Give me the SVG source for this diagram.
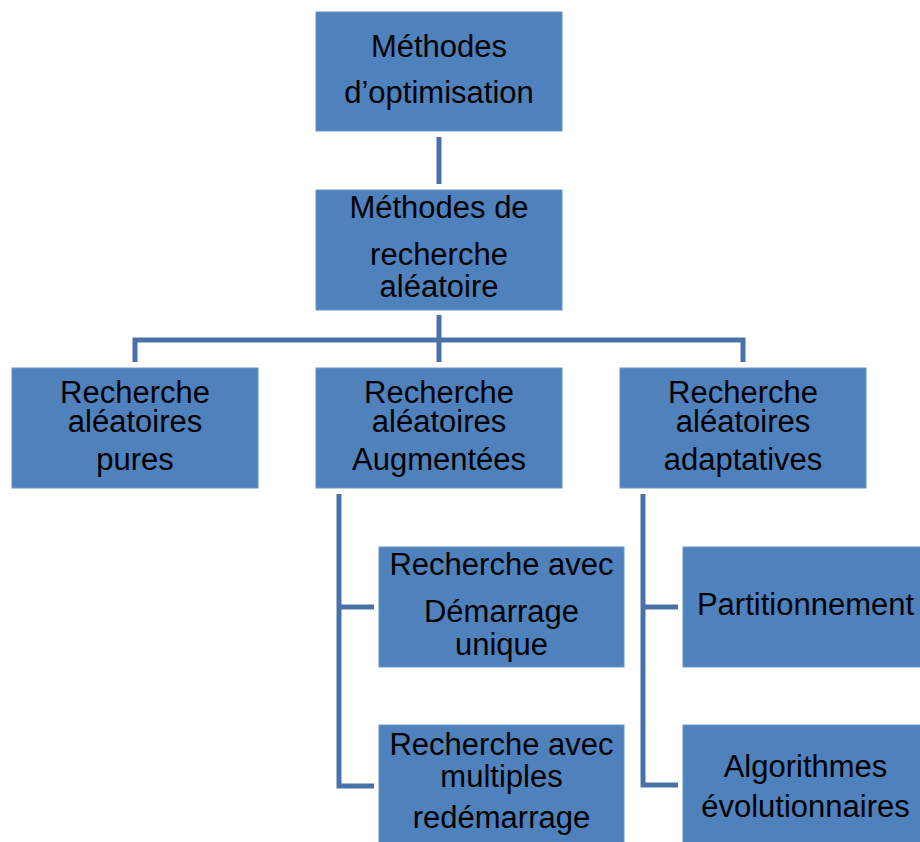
<svg xmlns="http://www.w3.org/2000/svg" width="920" height="842" viewBox="0 0 920 842">
<style>
.box{fill:#4F81BD;stroke:#6B93C6;stroke-width:1}
.t{font-family:"Liberation Sans",Arial,sans-serif;font-size:31px;fill:#000;text-anchor:middle}
.c{fill:none;stroke:#4A72AA;stroke-width:5;stroke-linejoin:miter;stroke-linecap:butt}
</style>
<rect width="920" height="842" fill="#fff"/>
<g id="connectors">
<path class="c" d="M439,137 V184"/>
<path class="c" d="M439,315 V362"/>
<path class="c" d="M135,362 V340 H743 V362"/>
<path class="c" d="M339,494 V786 H374"/>
<path class="c" d="M339,607 H374"/>
<path class="c" d="M643,494 V785 H678"/>
<path class="c" d="M643,607 H678"/>
</g>
<g id="n_methodes_optimisation">
<rect class="box" x="316" y="12" width="246" height="119"/>
<text class="t" x="439" y="57">Méthodes</text>
<text class="t" x="439" y="103">d’optimisation</text>
</g>
<g id="n_recherche_aleatoire">
<rect class="box" x="316" y="190" width="246" height="120"/>
<text class="t" x="439" y="218">Méthodes de</text>
<text class="t" x="439" y="265">recherche</text>
<text class="t" x="439" y="297">aléatoire</text>
</g>
<g id="n_pures">
<rect class="box" x="12" y="368" width="246" height="120"/>
<text class="t" x="135" y="403">Recherche</text>
<text class="t" x="135" y="432">aléatoires</text>
<text class="t" x="135" y="470">pures</text>
</g>
<g id="n_augmentees">
<rect class="box" x="316" y="368" width="246" height="120"/>
<text class="t" x="439" y="403">Recherche</text>
<text class="t" x="439" y="432">aléatoires</text>
<text class="t" x="439" y="470">Augmentées</text>
</g>
<g id="n_adaptatives">
<rect class="box" x="620" y="368" width="246" height="120"/>
<text class="t" x="743" y="403">Recherche</text>
<text class="t" x="743" y="432">aléatoires</text>
<text class="t" x="743" y="470">adaptatives</text>
</g>
<g id="n_demarrage_unique">
<rect class="box" x="379" y="547" width="245" height="120"/>
<text class="t" x="501.5" y="575">Recherche avec</text>
<text class="t" x="501.5" y="622">Démarrage</text>
<text class="t" x="501.5" y="655">unique</text>
</g>
<g id="n_multiples_redemarrage">
<rect class="box" x="379" y="725" width="245" height="125"/>
<text class="t" x="501.5" y="755">Recherche avec</text>
<text class="t" x="501.5" y="787">multiples</text>
<text class="t" x="501.5" y="828">redémarrage</text>
</g>
<g id="n_partitionnement">
<rect class="box" x="683" y="547" width="245" height="120"/>
<text class="t" x="805.5" y="615">Partitionnement</text>
</g>
<g id="n_evolutionnaires">
<rect class="box" x="683" y="725" width="245" height="125"/>
<text class="t" x="805.5" y="777">Algorithmes</text>
<text class="t" x="805.5" y="817">évolutionnaires</text>
</g>
</svg>
